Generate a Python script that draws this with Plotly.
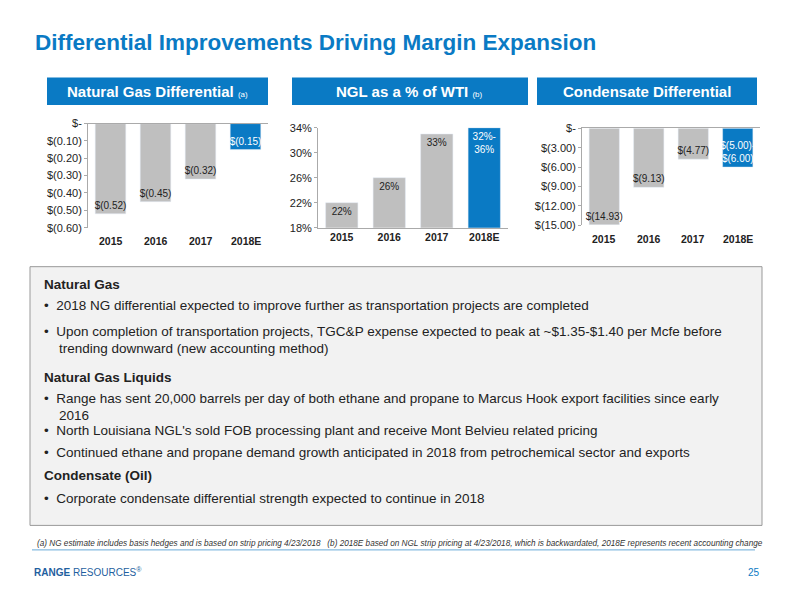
import plotly.graph_objects as go

years = ["2015", "2016", "2017", "2018E"]
ng_vals = [-0.52, -0.45, -0.32, -0.15]
ng_labels = ["$(0.52)", "$(0.45)", "$(0.32)", "$(0.15)"]
ng_ticks = [0, -0.1, -0.2, -0.3, -0.4, -0.5, -0.6]
ng_ticktext = ["$-", "$(0.10)", "$(0.20)", "$(0.30)", "$(0.40)", "$(0.50)", "$(0.60)"]

ngl_vals = [22, 26, 33, 34]
ngl_labels = ["22%", "26%", "33%", "32%-<br>36%"]
ngl_ticks = [18, 22, 26, 30, 34]
ngl_ticktext = ["18%", "22%", "26%", "30%", "34%"]

cond_vals = [-14.93, -9.13, -4.77, -6.0]
cond_labels = ["$(14.93)", "$(9.13)", "$(4.77)", "$(5.00)-<br>$(6.00)"]
cond_ticks = [0, -3, -6, -9, -12, -15]
cond_ticktext = ["$-", "$(3.00)", "$(6.00)", "$(9.00)", "$(12.00)", "$(15.00)"]

GRAY = "#bfbfbf"
BLUE = "#0a7ac4"
FONT = "Liberation Sans"
colors = [GRAY, GRAY, GRAY, BLUE]
txtcol = ["#222", "#222", "#222", "white"]

fig = go.Figure()
for i, (vals, labels) in enumerate([(ng_vals, ng_labels), (ngl_vals, ngl_labels),
                                     (cond_vals, cond_labels)]):
    sfx = "" if i == 0 else str(i + 1)
    fig.add_trace(go.Bar(
        x=years, y=vals, text=labels, textposition="inside", insidetextanchor="end",
        textangle=0, marker_color=colors, width=0.68,
        textfont=dict(family=FONT, size=10, color=txtcol),
        xaxis="x" + sfx, yaxis="y" + sfx, showlegend=False))

yfont = dict(family=FONT, size=11, color="#222")
xfont = dict(family=FONT, size=10.5, color="#222")
yax = dict(showgrid=False, zeroline=False, showline=True, linecolor="#aaa",
           ticks="outside", ticklen=3, tickcolor="#aaa", tickfont=yfont)
xax = dict(type="category", showgrid=False, showline=True, linecolor="#aaa")
bold_years = [f"<b>{y}</b>" for y in years]
fig.update_layout(
    width=800, height=600, margin=dict(l=0, r=0, t=0, b=0),
    paper_bgcolor="white", plot_bgcolor="white",
    uniformtext=dict(minsize=10, mode="show"),
    xaxis=dict(domain=[0.11, 0.335], anchor="y", side="top", showticklabels=False, **xax),
    yaxis=dict(domain=[0.623, 0.80], anchor="x", range=[-0.6, 0], tickvals=ng_ticks,
               ticktext=ng_ticktext, **yax),
    xaxis2=dict(domain=[0.3975, 0.635], anchor="y2", tickfont=xfont, tickvals=years,
                ticktext=bold_years, **xax),
    yaxis2=dict(domain=[0.623, 0.793], anchor="x2", range=[18, 34], tickvals=ngl_ticks,
                ticktext=ngl_ticktext, **yax),
    xaxis3=dict(domain=[0.7275, 0.95], anchor="y3", side="top", showticklabels=False, **xax),
    yaxis3=dict(domain=[0.627, 0.792], anchor="x3", range=[-15, 0], tickvals=cond_ticks,
                ticktext=cond_ticktext, **yax),
)

shapes, ann = [], []
def px(x): return x / 800
def py(y): return 1 - y / 600

def text(x, y, t, size=13, color="#222", xanchor="left", xref="paper"):
    ann.append(dict(x=x, y=py(y), xref=xref, yref="paper", xanchor=xanchor,
                    yanchor="middle", text=t, showarrow=False,
                    font=dict(family=FONT, size=size, color=color)))

# category labels below the negative charts (x = category index)
for xa, y0 in [("x", 240), ("x3", 238)]:
    for i, yr in enumerate(years):
        text(i, y0, f"<b>{yr}</b>", size=10.5, xanchor="center", xref=xa)

text(px(33), 37, "<b>Differential Improvements Driving Margin Expansion</b>", size=22.5, color=BLUE)

for x0, x1, t in [(47, 268, "<b>Natural Gas Differential</b> <span style='font-size:8px'>(a)</span>"),
                  (292, 528, "<b>NGL as a % of WTI</b> <span style='font-size:8px'>(b)</span>"),
                  (537, 757, "<b>Condensate Differential</b>")]:
    shapes.append(dict(type="rect", xref="paper", yref="paper", x0=px(x0), x1=px(x1),
                       y0=py(101), y1=py(73), fillcolor=BLUE, line_width=0))
    text(px((x0 + x1) / 2), 87, t, size=15, color="white", xanchor="center")

shapes.append(dict(type="rect", xref="paper", yref="paper", x0=px(30), x1=px(762),
                   y0=py(530), y1=py(266), fillcolor="#f2f2f2", line=dict(color="#999", width=1)))

body = [
    (284, "<b>Natural Gas</b>"),
    (306, "•  2018 NG differential expected to improve further as transportation projects are completed"),
    (332, "•  Upon completion of transportation projects, TGC&P expense expected to peak at ~$1.35-$1.40 per Mcfe before"),
    (349, "    trending downward (new accounting method)"),
    (379, "<b>Natural Gas Liquids</b>"),
    (401, "•  Range has sent 20,000 barrels per day of both ethane and propane to Marcus Hook export facilities since early"),
    (418, "    2016"),
    (433, "•  North Louisiana NGL's sold FOB processing plant and receive Mont Belvieu related pricing"),
    (456, "•  Continued ethane and propane demand growth anticipated in 2018 from petrochemical sector and exports"),
    (479, "<b>Condensate (Oil)</b>"),
    (503, "•  Corporate condensate differential strength expected to continue in 2018"),
]
for y, t in body:
    text(px(42), y, t, size=13.5)

text(px(35), 548, "<i>(a) NG estimate includes basis hedges and is based on strip pricing 4/23/2018   "
     "(b) 2018E based on NGL strip pricing at 4/23/2018, which is backwardated, 2018E represents recent accounting change</i>",
     size=8.2, color="#333")
shapes.append(dict(type="line", xref="paper", yref="paper", x0=px(32), x1=px(755),
                   y0=py(555), y1=py(555), line=dict(color="#6aaad8", width=1)))
text(px(32), 578, "<b>RANGE</b> RESOURCES<sup>®</sup>", size=10, color="#1f5fa0")
text(px(762), 578, "25", size=10, color=BLUE, xanchor="right")

fig.update_layout(shapes=shapes, annotations=ann)
fig.write_html("out.html", config={"displayModeBar": False},
               post_script="document.body.style.margin='0';")
